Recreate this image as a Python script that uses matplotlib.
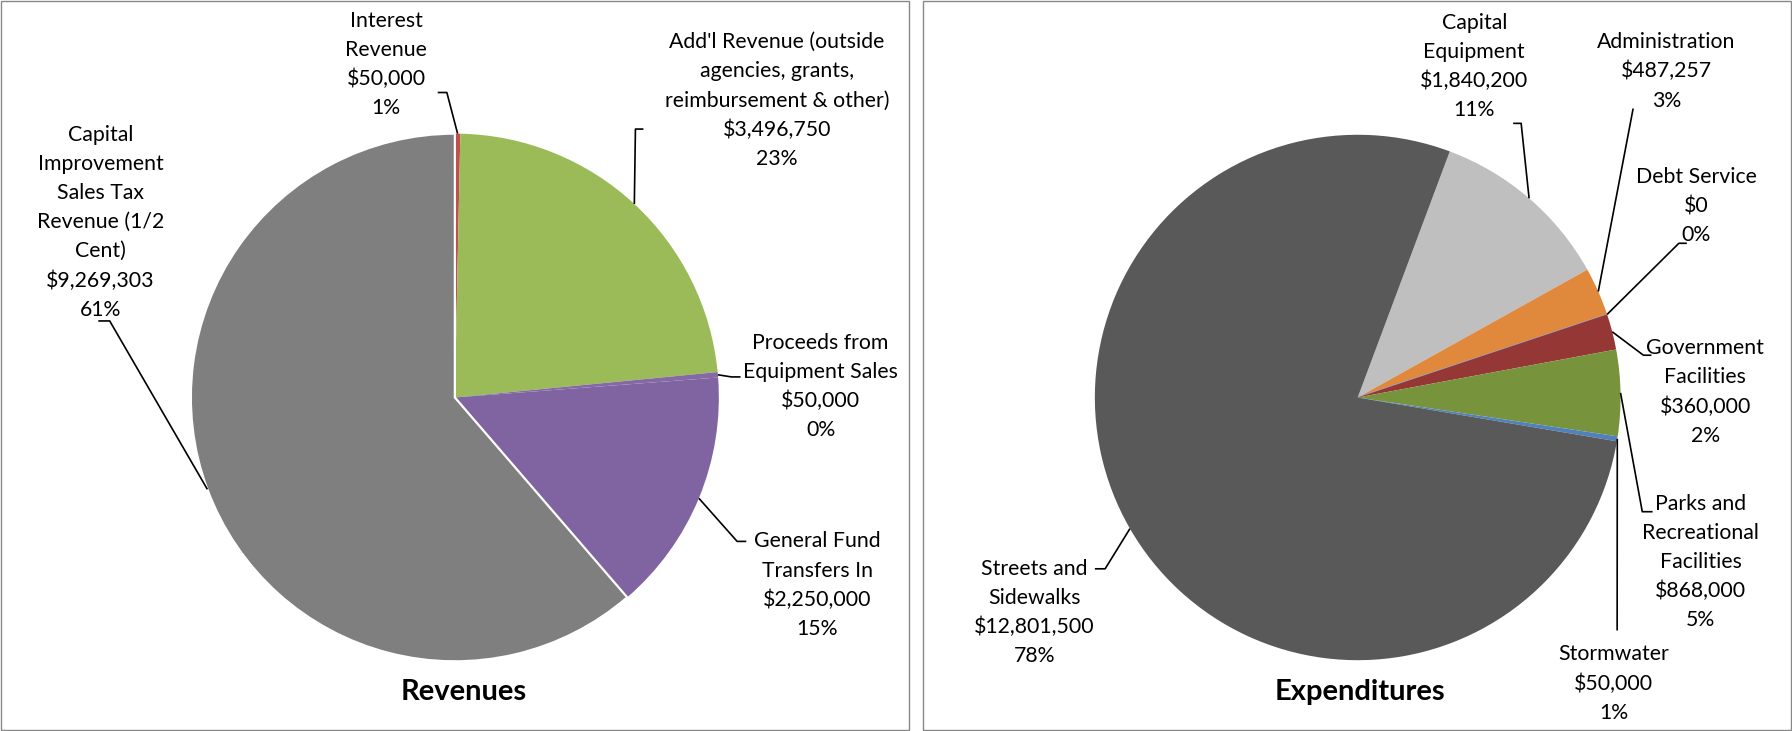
import matplotlib
matplotlib.use("Agg")
import matplotlib.pyplot as plt
import numpy as np
from matplotlib.patches import Rectangle

# ---------------- data ----------------
rev_names = ["Interest\nRevenue",
             "Add'l Revenue (outside\nagencies, grants,\nreimbursement & other)",
             "Proceeds from\nEquipment Sales",
             "General Fund\nTransfers In",
             "Capital\nImprovement\nSales Tax\nRevenue (1/2\nCent)"]
rev_values = [50000, 3496750, 50000, 2250000, 9269303]
rev_pcts = ["1%", "23%", "0%", "15%", "61%"]
rev_colors = ["#C0504D", "#9BBB59", "#8569A6", "#8064A2", "#7F7F7F"]

exp_names = ["Capital\nEquipment", "Administration", "Debt Service",
             "Government\nFacilities", "Parks and\nRecreational\nFacilities",
             "Stormwater", "Streets and\nSidewalks"]
exp_values = [1840200, 487257, 0, 360000, 868000, 50000, 12801500]
exp_pcts = ["11%", "3%", "0%", "2%", "5%", "1%", "78%"]
exp_colors = ["#BFBFBF", "#E0883C", "#95A9CF", "#953735", "#77933C", "#4F81BD", "#595959"]

# ---------------- layout (frame 1568 x 640, y measured from top) ----------------
W, H = 1568, 640
def Y(y):
    return H - y

rev_center = (398, 348); rev_r = 231
exp_center = (1188, 348); exp_r = 230

rev_lab_x = [338, 680, 718, 715, 88]
rev_lab_y0 = [18, 37, 300, 474, 118]
rev_leader = [[(383, 81), (391, 81)],
              [(563, 113), (556, 113)],
              [(648, 330), (640, 330)],
              [(653, 474), (645, 474)],
              [(86, 281), (96, 281)]]

exp_lab_x = [1290, 1458, 1484, 1492, 1488, 1412, 905]
exp_lab_y0 = [20, 37, 155, 305, 441, 573, 498]
exp_leader = [[(1324, 108), (1331, 108)],
              [(1429, 95)],
              [(1476, 213), (1469, 213)],
              [(1445, 311), (1438, 311)],
              [(1446, 448), (1437, 448)],
              [(1415, 552)],
              [(958, 498), (967, 498)]]

PITCH = 25.5
FONT = "Lato"
FS = 15.3

fig = plt.figure(figsize=(17.92, 7.31), dpi=100)
ax = fig.add_axes([0, 0, 1, 1])

def draw_pie(values, colors, center, r, startangle, names, pcts, lab_x, lab_y0, leaders, white_idx=None):
    wedges, _ = ax.pie(values, colors=colors, center=(center[0], Y(center[1])), radius=r,
                       startangle=startangle, counterclock=False,
                       wedgeprops=dict(linewidth=0))
    for i, w in enumerate(wedges):
        if white_idx is not None and i == white_idx:
            w.set_edgecolor("white"); w.set_linewidth(1.6)
        if values[i] == 0:
            w.set_edgecolor(colors[i]); w.set_linewidth(1.0)
        mid = np.deg2rad((w.theta1 + w.theta2) / 2)
        px = center[0] + r * np.cos(mid)
        py = Y(center[1]) + r * np.sin(mid)
        pts = [(x, Y(y)) for (x, y) in leaders[i]] + [(px, py)]
        xs, ys = zip(*pts)
        ax.plot(xs, ys, color="black", lw=1.2, solid_capstyle="butt", zorder=5)
        lines = names[i].split("\n") + [f"${values[i]:,.0f}", pcts[i]]
        for k, t in enumerate(lines):
            ax.text(lab_x[i], Y(lab_y0[i] + k * PITCH), t, ha="center", va="center",
                    fontsize=FS, family=FONT, color="black")

draw_pie(rev_values, rev_colors, rev_center, rev_r, 90, rev_names, rev_pcts,
         rev_lab_x, rev_lab_y0, rev_leader, white_idx=4)
draw_pie(exp_values, exp_colors, exp_center, exp_r, 69.5, exp_names, exp_pcts,
         exp_lab_x, exp_lab_y0, exp_leader)

ax.text(406, Y(606), "Revenues", ha="center", va="center", fontsize=21,
        fontweight="bold", family=FONT)
ax.text(1190, Y(606), "Expenditures", ha="center", va="center", fontsize=21,
        fontweight="bold", family=FONT)

ax.add_patch(Rectangle((0.6, 0.6), 794.4, H - 1.2, fill=False, edgecolor="#888888", lw=1.0))
ax.add_patch(Rectangle((808, 0.6), W - 808.6, H - 1.2, fill=False, edgecolor="#888888", lw=1.0))

ax.set_xlim(0, W)
ax.set_ylim(0, H)
ax.set_aspect("auto")
ax.axis("off")
fig.savefig("out.png", dpi=100)
